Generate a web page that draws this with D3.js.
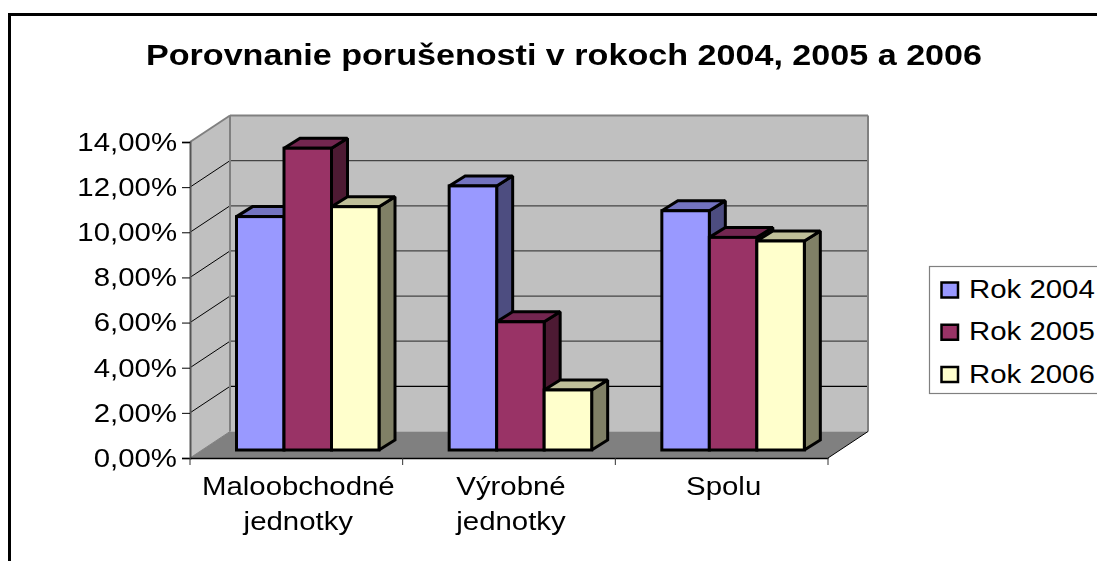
<!DOCTYPE html>
<html><head><meta charset="utf-8">
<script src="https://cdn.jsdelivr.net/npm/d3@7"></script>
<style>
html,body{margin:0;padding:0;background:#fff;overflow:hidden}
svg{display:block;filter:blur(0.35px)}
text{font-family:"Liberation Sans",Arial,sans-serif;fill:#000}
</style></head><body><svg id="c" width="1097" height="561"></svg>
<script>
const titleText = "Porovnanie porušenosti v rokoch 2004, 2005 a 2006";
const categories = ["Maloobchodné|jednotky", "Výrobné|jednotky", "Spolu"];
const seriesNames = ["Rok 2004", "Rok 2005", "Rok 2006"];
const rok2004 = [10.34, 11.7, 10.6];
const rok2005 = [13.37, 5.68, 9.42];
const rok2006 = [10.78, 2.66, 9.26];
const yTicks = [0, 2, 4, 6, 8, 10, 12, 14];
const seriesValues = [rok2004, rok2005, rok2006];
const frontColors = ["#9999FF", "#993366", "#FFFFCC"];
const topColors = ["#7373BF", "#732650", "#BFBF99"];
const sideColors = ["#4D4D80", "#4D1A33", "#808066"];

const svg = d3.select("#c");
const x = d3.scaleBand().domain(categories).range([190, 828]);
const y = d3.scaleLinear().domain([0, 14]).range([458, 142]);
const series = d3.scaleBand().domain(d3.range(3)).range([46.5, 46.5 + 142.5]);
const DX = 40, DY = -26.5;      // wall depth
const BX = 16, BY = -10;        // bar depth
const LIFT = -8;                // bars stand in the middle of the floor

// the original text is stretched horizontally
const stretch = (sel, wide = 1.13) => sel.each(function () {
  const n = this.getComputedTextLength();
  d3.select(this).attr("textLength", n * wide).attr("lengthAdjust", "spacingAndGlyphs");
});

// frame
svg.append("path").attr("d", "M1097,14.5H9.5V561").attr("fill", "none").attr("stroke", "#000").attr("stroke-width", 3);

// title
svg.append("text").attr("x", 564).attr("y", 65).attr("text-anchor", "middle")
  .attr("font-size", 30).attr("font-weight", "bold").text(titleText).call(stretch, 1.137);

// walls and floor
const y0 = y(0), y14 = y(14), xL = 190, xR = 828;
const poly = (pts, fill) => svg.append("path").attr("d", "M" + pts.map(p => p.join(",")).join("L") + "Z").attr("fill", fill);
poly([[xL + DX, y14 + DY], [xR + DX, y14 + DY], [xR + DX, y0 + DY], [xL + DX, y0 + DY]], "#C0C0C0");
poly([[xL, y14], [xL + DX, y14 + DY], [xL + DX, y0 + DY], [xL, y0]], "#C0C0C0");
poly([[xL, y0], [xL + DX, y0 + DY], [xR + DX, y0 + DY], [xR, y0]], "#808080");

// gridlines
const grid = svg.append("g");
yTicks.slice(1).forEach(t => {
  grid.append("line").attr("x1", xL).attr("y1", y(t)).attr("x2", xL + DX).attr("y2", y(t) + DY)
    .attr("stroke", t === 14 ? "#808080" : "#000").attr("stroke-width", t === 14 ? 2 : 1);
  grid.append("line").attr("x1", xL + DX).attr("y1", y(t) + DY).attr("x2", xR + DX).attr("y2", y(t) + DY)
    .attr("stroke-width", t === 14 ? 2 : 1.2).attr("stroke", t === 14 ? "#808080" : (t <= 2 ? "#000" : "#444"));
});
// wall edges
svg.append("path").attr("d", `M${xL + DX},${y14 + DY}V${y0 + DY}`).attr("stroke", "#808080").attr("stroke-width", 2).attr("fill", "none");
svg.append("path").attr("d", `M${xR + DX},${y14 + DY}V${y0 + DY}`).attr("stroke", "#808080").attr("stroke-width", 2).attr("fill", "none");
svg.append("path").attr("d", `M${xR},${y0}L${xR + DX},${y0 + DY}`).attr("stroke", "#000").attr("stroke-width", 1).attr("fill", "none");
svg.append("path").attr("d", `M${xL},${y0}L${xL + DX},${y0 + DY}`).attr("stroke", "#808080").attr("stroke-width", 1).attr("fill", "none");

// bars
categories.forEach((c, ci) => {
  seriesValues.forEach((vals, si) => {
    const l = x(c) + series(si), r = l + series.bandwidth();
    const b = y(0) + LIFT, t = y(vals[ci]) + LIFT;
    const g = svg.append("g").attr("stroke", "#000").attr("stroke-width", 3)
      .attr("stroke-linejoin", "miter").attr("stroke-miterlimit", 1.5);
    g.append("path").attr("d", `M${r},${t}L${r + BX},${t + BY}V${b + BY}L${r},${b}Z`).attr("fill", sideColors[si]);
    g.append("path").attr("d", `M${l},${t}L${l + BX},${t + BY}H${r + BX}L${r},${t}Z`).attr("fill", topColors[si]);
    g.append("rect").attr("x", l).attr("y", t).attr("width", r - l).attr("height", b - t).attr("fill", frontColors[si]);
  });
});

// axes
const yAxis = d3.axisLeft(y).tickValues(yTicks).tickSize(8).tickPadding(5)
  .tickFormat(d => d3.format(".2f")(d).replace(".", ",") + "%");
const gy = svg.append("g").attr("transform", `translate(${xL},0)`).call(yAxis);
gy.selectAll("text").attr("font-size", 26).attr("font-family", '"Liberation Sans"').attr("fill", "#000").call(stretch);
gy.select(".domain").attr("stroke", "#555").attr("stroke-width", 2);
gy.selectAll("line").attr("stroke", "#000");

const xAxis = d3.axisBottom(x).tickSizeOuter(0).tickSize(0).tickFormat("");
const gx = svg.append("g").attr("transform", `translate(0,${y0})`).call(xAxis);
gx.select(".domain").attr("stroke", "#000").attr("stroke-width", 1.5);
categories.forEach((c, i) => {
  const px = x(c);
  gx.append("line").attr("x1", px).attr("x2", px).attr("y1", 0).attr("y2", 7).attr("stroke", "#333");
  if (i === 2) gx.append("line").attr("x1", px + x.bandwidth()).attr("x2", px + x.bandwidth()).attr("y1", 0).attr("y2", 7).attr("stroke", "#333");
  c.split("|").forEach((p, k) => {
    gx.append("text").attr("x", px + x.bandwidth() / 2 + 2).attr("y", 37 + k * 35).attr("text-anchor", "middle")
      .attr("font-size", 26).attr("font-family", '"Liberation Sans"').attr("fill", "#000").text(p).call(stretch);
  });
});

// legend
const legend = svg.append("g");
legend.append("rect").attr("x", 929.5).attr("y", 266.5).attr("width", 180).attr("height", 127)
  .attr("fill", "#fff").attr("stroke", "#808080").attr("stroke-width", 1.2);
const ly = d3.scalePoint().domain(seriesNames).range([290, 374.5]);
seriesNames.forEach((n, i) => {
  const c = ly(n);
  legend.append("rect").attr("x", 941.5).attr("y", c - 7.5).attr("width", 16.5).attr("height", 15)
    .attr("fill", frontColors[i]).attr("stroke", "#000").attr("stroke-width", 2.5);
  legend.append("text").attr("x", 969).attr("y", c + 8).attr("font-size", 26).text(n).call(stretch);
});
</script></body></html>
